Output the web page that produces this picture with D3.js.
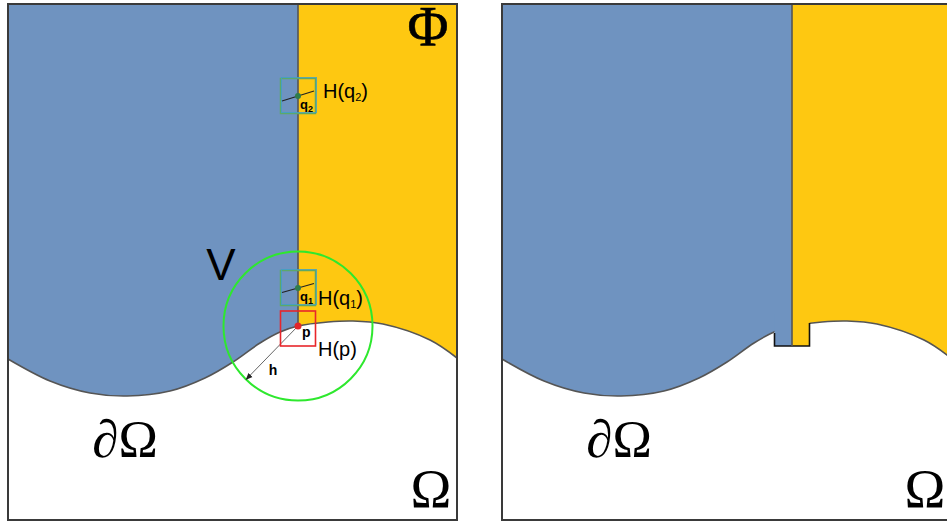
<!DOCTYPE html>
<html>
<head>
<meta charset="utf-8">
<script src="https://cdn.jsdelivr.net/npm/d3@7"></script>
<style>
  body { margin: 0; background: #fff; }
  svg { display: block; }
</style>
</head>
<body>
<svg id="fig"></svg>
<script>
// Boundary curve of Omega, in panel units (x across, y down)
const boundaryX = [0, 42, 82, 119, 162, 197, 225, 252, 272, 290, 320, 345, 375, 422, 449];
const boundaryY = [355, 377, 389, 392, 387, 374, 358, 339, 328, 322, 318, 317, 320, 336, 354];

// Where V meets Phi, and the marked points
const dividerX = 290;
const points = [
    {name: "p", x: 290, y: 322, color: "#e3262b"},
    {name: "q1", x: 290, y: 284, color: "#2f7d4a"},
    {name: "q2", x: 290, y: 92, color: "#2f7d4a"}
];
const boxHalf = 17.5;
const radiusH = 74.5;
// tangent segments through q1, q2 (dx, dy of one end)
const tangentSlope = [{name: "q1", dx: 16, dy: -4.5}, {name: "q2", dx: 16, dy: -5}];

const width = 947, height = 522;
const panelW = 449, panelH = 516;
const panels = [{x: 8, notch: false}, {x: 502, notch: true}];

const svg = d3.select("#fig")
    .attr("width", width)
    .attr("height", height);

const defs = svg.append("defs");
const blue = "#6f93c0", yellow = "#fec811", edge = "#3a3a3a";

const curveData = boundaryX.map((x, i) => ({x: x, y: boundaryY[i]}));

panels.forEach((panel, pi) => {
    const x = d3.scaleLinear().domain([0, panelW]).range([panel.x, panel.x + panelW]);
    const y = d3.scaleLinear().domain([0, panelH]).range([4, 4 + panelH]);
    const g = svg.append("g");

    // clip paths for each side of the divider
    defs.append("clipPath").attr("id", "left" + pi)
        .append("rect").attr("x", x(0)).attr("y", y(0))
        .attr("width", x(dividerX) - x(0)).attr("height", panelH);
    defs.append("clipPath").attr("id", "right" + pi)
        .append("rect").attr("x", x(dividerX)).attr("y", y(0))
        .attr("width", x(panelW) - x(dividerX)).attr("height", panelH);

    const area = d3.area()
        .x(d => x(d.x))
        .y0(y(0))
        .y1(d => y(d.y))
        .curve(d3.curveCatmullRom);

    g.append("path").datum(curveData)
        .attr("d", area).attr("fill", blue)
        .attr("clip-path", `url(#left${pi})`);
    g.append("path").datum(curveData)
        .attr("d", area).attr("fill", yellow)
        .attr("clip-path", `url(#right${pi})`);

    const p = points[0];
    const bx0 = p.x - boxHalf, bx1 = p.x + boxHalf;
    const by1 = p.y + 20;

    if (panel.notch) {
        g.append("rect").attr("x", x(bx0)).attr("y", y(p.y - 12))
            .attr("width", x(p.x) - x(bx0)).attr("height", y(by1) - y(p.y - 12))
            .attr("fill", blue);
        g.append("rect").attr("x", x(p.x)).attr("y", y(p.y - 12))
            .attr("width", x(bx1) - x(p.x)).attr("height", y(by1) - y(p.y - 12))
            .attr("fill", yellow);
    }

    // boundary line
    const line = d3.line().x(d => x(d.x)).y(d => y(d.y)).curve(d3.curveCatmullRom);
    if (panel.notch) {
        defs.append("clipPath").attr("id", "gap" + pi)
            .selectAll("rect")
            .data([[0, bx0], [bx1, panelW]])
            .enter().append("rect")
            .attr("x", d => x(d[0])).attr("y", y(0))
            .attr("width", d => x(d[1]) - x(d[0])).attr("height", panelH);
        g.append("path").datum(curveData)
            .attr("d", line).attr("fill", "none")
            .attr("stroke", "#555").attr("stroke-width", 1.6)
            .attr("clip-path", `url(#gap${pi})`);
        g.append("path")
            .attr("d", `M${x(bx0)},${y(329)}V${y(by1)}H${x(bx1)}V${y(319)}`)
            .attr("fill", "none").attr("stroke", "#111").attr("stroke-width", 1.6);
    } else {
        g.append("path").datum(curveData)
            .attr("d", line).attr("fill", "none")
            .attr("stroke", "#555").attr("stroke-width", 1.6);
    }

    // divider between V and Phi
    g.append("line")
        .attr("x1", x(dividerX)).attr("x2", x(dividerX))
        .attr("y1", y(0)).attr("y2", panel.notch ? y(by1) : y(p.y))
        .attr("stroke", "#555").attr("stroke-width", 1.6);

    // panel border
    g.append("rect")
        .attr("x", x(0)).attr("y", y(0))
        .attr("width", panelW).attr("height", panelH)
        .attr("fill", "none").attr("stroke", edge).attr("stroke-width", 2);

    // Greek labels
    const serif = "'Liberation Serif', 'DejaVu Serif', serif";
    g.append("text").attr("x", x(423)).attr("y", y(503))
        .attr("text-anchor", "middle")
        .style("font-family", serif).style("font-size", "55px")
        .text("Ω");
    g.append("text").attr("x", x(117)).attr("y", y(453))
        .attr("text-anchor", "middle")
        .style("font-family", serif).style("font-size", "53px")
        .text("∂Ω");

    if (panel.notch) return;

    g.append("text").attr("x", x(420)).attr("y", y(42))
        .attr("text-anchor", "middle")
        .style("font-family", serif).style("font-size", "56px")
        .style("stroke", "#000").style("stroke-width", 0.6)
        .text("Φ");

    const sans = "'Liberation Sans', Arial, sans-serif";
    g.append("text").attr("x", x(213)).attr("y", y(276))
        .attr("text-anchor", "middle")
        .style("font-family", sans).style("font-size", "44px")
        .text("V");

    // neighbourhood circle of radius h
    g.append("circle")
        .attr("cx", x(p.x)).attr("cy", y(p.y))
        .attr("r", x(radiusH) - x(0))
        .attr("fill", "none").attr("stroke", "#2ee82e").attr("stroke-width", 2);

    defs.append("marker").attr("id", "arrow")
        .attr("viewBox", "0 0 10 10").attr("refX", 9).attr("refY", 5)
        .attr("markerWidth", 7).attr("markerHeight", 7).attr("orient", "auto")
        .append("path").attr("d", "M0,1L10,5L0,9Z").attr("fill", "#222");
    const ang = Math.atan2(52, -50.5);
    g.append("line")
        .attr("x1", x(p.x)).attr("y1", y(p.y))
        .attr("x2", x(p.x + radiusH * Math.cos(ang))).attr("y2", y(p.y + radiusH * Math.sin(ang)))
        .attr("stroke", "#666").attr("stroke-width", 1)
        .attr("marker-end", "url(#arrow)");
    g.append("text").attr("x", x(265)).attr("y", y(371))
        .attr("text-anchor", "middle")
        .style("font-family", sans).style("font-size", "14px").style("font-weight", "bold")
        .text("h");

    // boxes H(q1), H(q2)
    points.slice(1).forEach(q => {
        g.append("rect")
            .attr("x", x(q.x - boxHalf)).attr("y", y(q.y - boxHalf))
            .attr("width", 2 * boxHalf).attr("height", 2 * boxHalf)
            .attr("fill", "none").attr("stroke", "#5da86a").attr("stroke-width", 1.5);
        g.append("rect")
            .attr("x", x(q.x - boxHalf + 1)).attr("y", y(q.y - boxHalf - 1))
            .attr("width", 2 * boxHalf).attr("height", 2 * boxHalf)
            .attr("fill", "none").attr("stroke", "#3fa0c8").attr("stroke-width", 1).attr("opacity", 0.8);
        const t = tangentSlope.find(s => s.name === q.name);
        g.append("line")
            .attr("x1", x(q.x - t.dx)).attr("y1", y(q.y - t.dy))
            .attr("x2", x(q.x + t.dx)).attr("y2", y(q.y + t.dy))
            .attr("stroke", "#222").attr("stroke-width", 1.2);
        g.append("circle").attr("cx", x(q.x)).attr("cy", y(q.y)).attr("r", 3)
            .attr("fill", q.color);
        const small = g.append("text").attr("x", x(q.x + 2)).attr("y", y(q.y + 13))
            .style("font-family", sans).style("font-size", "13px").style("font-weight", "bold");
        small.append("tspan").text("q");
        small.append("tspan").attr("dy", 3).style("font-size", "9px").text(q.name.slice(1));
    });

    // box H(p)
    g.append("rect")
        .attr("x", x(bx0)).attr("y", y(p.y - 15))
        .attr("width", 2 * boxHalf).attr("height", 35)
        .attr("fill", "none").attr("stroke", "#e8262b").attr("stroke-width", 1.6);
    g.append("circle").attr("cx", x(p.x)).attr("cy", y(p.y)).attr("r", 3.5)
        .attr("fill", p.color);
    g.append("text").attr("x", x(p.x + 4)).attr("y", y(p.y + 11))
        .style("font-family", sans).style("font-size", "14px").style("font-weight", "bold")
        .text("p");

    // H labels
    const hLabels = [
        {name: "q2", lx: 315, ly: 94},
        {name: "q1", lx: 310, ly: 301},
        {name: "p", lx: 310, ly: 352}
    ];
    hLabels.forEach(h => {
        const t = g.append("text").attr("x", x(h.lx)).attr("y", y(h.ly))
            .style("font-family", sans).style("font-size", "20px");
        if (h.name === "p") {
            t.text("H(p)");
        } else {
            t.append("tspan").text("H(q");
            t.append("tspan").attr("dy", 3).style("font-size", "11px").text(h.name.slice(1));
            t.append("tspan").attr("dy", -3).text(")");
        }
    });
});
</script>
</body>
</html>
